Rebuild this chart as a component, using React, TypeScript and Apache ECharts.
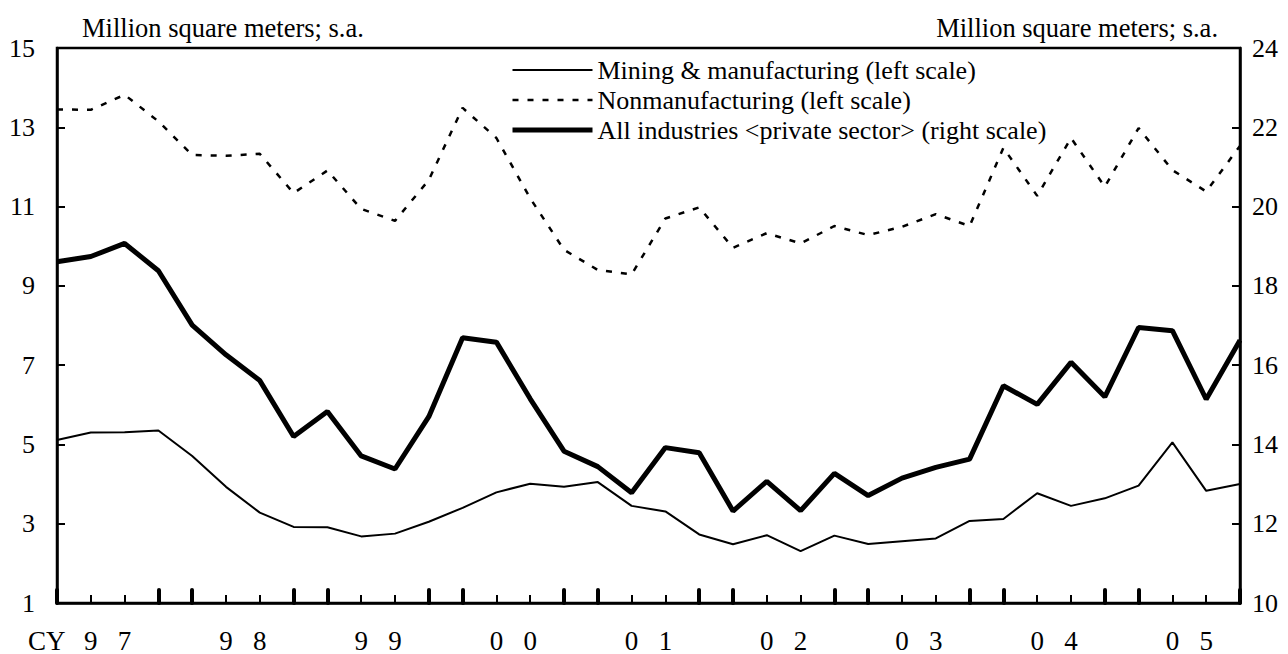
import React, { useEffect, useRef } from "react";
import * as echarts from "echarts";

const quarters: string[] = [];
for (let y = 1997; y <= 2005; y++) {
  for (let q = 1; q <= 4; q++) quarters.push(`${y}Q${q}`);
}

const mining = [
  5.11, 5.30, 5.31, 5.35, 4.71, 3.93, 3.28, 2.92, 2.91, 2.68, 2.75, 3.05,
  3.40, 3.79, 4.01, 3.93, 4.05, 3.45, 3.31, 2.73, 2.48, 2.71, 2.31, 2.70,
  2.49, 2.56, 2.63, 3.07, 3.12, 3.77, 3.45, 3.64, 3.96, 5.05, 3.83, 4.00,
];

const nonmanufacturing = [
  13.45, 13.44, 13.82, 13.15, 12.30, 12.28, 12.33, 11.34, 11.91, 10.94, 10.64, 11.67,
  13.49, 12.73, 11.21, 9.91, 9.40, 9.29, 10.70, 10.98, 9.96, 10.33, 10.07, 10.51,
  10.28, 10.49, 10.81, 10.51, 12.48, 11.27, 12.73, 11.50, 12.98, 11.92, 11.38, 12.53,
];

const allIndustries = [
  18.61, 18.74, 19.07, 18.38, 17.01, 16.26, 15.61, 14.20, 14.83, 13.71, 13.38, 14.70,
  16.69, 16.58, 15.15, 13.83, 13.44, 12.78, 13.92, 13.79, 12.32, 13.07, 12.33, 13.27,
  12.71, 13.15, 13.42, 13.63, 15.48, 15.01, 16.07, 15.20, 16.95, 16.87, 15.14, 16.63,
];

const seriesNames = [
  "Mining & manufacturing (left scale)",
  "Nonmanufacturing (left scale)",
  "All industries <private sector> (right scale)",
];

const unitText = "Million square meters; s.a.";
const FONT = "Liberation Serif";

export default function App() {
  const ref = useRef<HTMLDivElement>(null);
  useEffect(() => {
    if (!ref.current) return;
    const chart = echarts.init(ref.current, undefined, { renderer: "svg" });
    const lineSeriesBase = {
      type: "line" as const,
      symbol: "none",
      smooth: false,
      xAxisIndex: 0,
    };
    const dash = [6, 9];
    chart.setOption({
      animation: false,
      backgroundColor: "#fff",
      textStyle: { fontFamily: FONT, color: "#000" },
      grid: {
        left: 57,
        right: 48,
        top: 48,
        bottom: 51,
        show: true,
        borderColor: "#000",
        borderWidth: 2.5,
        containLabel: false,
      },
      legend: {
        orient: "vertical",
        left: 510,
        top: 57,
        padding: 0,
        itemWidth: 80,
        itemHeight: 14,
        itemGap: 4,
        textStyle: { fontFamily: FONT, fontSize: 26, color: "#000" },
        itemStyle: { opacity: 0 },
        selectedMode: false,
        data: [
          { name: seriesNames[0], lineStyle: { width: 2, color: "#000" } },
          { name: seriesNames[1], lineStyle: { width: 2.5, color: "#000", type: dash } },
          { name: seriesNames[2], lineStyle: { width: 5, color: "#000" } },
        ],
      },
      xAxis: [
        {
          type: "category",
          data: quarters,
          boundaryGap: false,
          position: "bottom",
          axisLine: { show: true, lineStyle: { color: "#000", width: 2.5 } },
          axisTick: {
            show: true,
            inside: true,
            length: 8,
            interval: 0,
            lineStyle: { color: "#000", width: 2 },
          },
          axisLabel: {
            interval: 0,
            margin: 24,
            fontFamily: FONT,
            fontSize: 27,
            color: "#000",
            formatter: (v: string, i: number) => {
              const yy = v.slice(2, 4);
              if (i % 4 === 1) return yy[0];
              if (i % 4 === 2) return yy[1];
              return "";
            },
          },
          splitLine: { show: false },
        },
        {
          type: "category",
          data: quarters,
          boundaryGap: false,
          position: "bottom",
          axisLine: { show: false },
          axisTick: {
            show: true,
            inside: true,
            length: 13,
            interval: (i: number) => i % 4 === 0 || i % 4 === 3,
            lineStyle: { color: "#000", width: 4, cap: "round" },
          },
          axisLabel: { show: false },
          splitLine: { show: false },
        },
      ],
      yAxis: [
        {
          type: "value",
          min: 1,
          max: 15,
          interval: 2,
          position: "left",
          axisLine: { show: true, lineStyle: { color: "#000", width: 2.5 } },
          axisTick: { show: true, inside: true, length: 8, lineStyle: { color: "#000", width: 2 } },
          axisLabel: { margin: 22, fontFamily: FONT, fontSize: 26, color: "#000" },
          splitLine: { show: false },
        },
        {
          type: "value",
          min: 10,
          max: 24,
          interval: 2,
          position: "right",
          axisLine: { show: true, lineStyle: { color: "#000", width: 2.5 } },
          axisTick: { show: true, inside: true, length: 8, lineStyle: { color: "#000", width: 2 } },
          axisLabel: { margin: 12, fontFamily: FONT, fontSize: 26, color: "#000" },
          splitLine: { show: false },
        },
      ],
      series: [
        {
          ...lineSeriesBase,
          name: seriesNames[0],
          yAxisIndex: 0,
          data: mining,
          lineStyle: { color: "#000", width: 2 },
          itemStyle: { color: "#000" },
          z: 3,
        },
        {
          ...lineSeriesBase,
          name: seriesNames[1],
          yAxisIndex: 0,
          data: nonmanufacturing,
          lineStyle: { color: "#000", width: 2.5, type: dash },
          itemStyle: { color: "#000" },
          z: 3,
        },
        {
          ...lineSeriesBase,
          name: seriesNames[2],
          yAxisIndex: 1,
          data: allIndustries,
          lineStyle: { color: "#000", width: 5 },
          itemStyle: { color: "#000" },
          z: 4,
        },
      ],
      graphic: [
        {
          type: "text",
          left: 82,
          top: 14,
          style: { text: unitText, font: `26.5px ${FONT}`, fill: "#000" },
        },
        {
          type: "text",
          right: 70,
          top: 14,
          style: { text: unitText, font: `26.5px ${FONT}`, fill: "#000" },
        },
        {
          type: "text",
          left: 28,
          top: 627,
          style: { text: "CY", font: `27px ${FONT}`, fill: "#000" },
        },
      ],
    });
    return () => chart.dispose();
  }, []);
  return (
    <div
      ref={ref}
      style={{ position: "fixed", left: 0, top: 0, width: 1288, height: 654, background: "#fff" }}
    />
  );
}
